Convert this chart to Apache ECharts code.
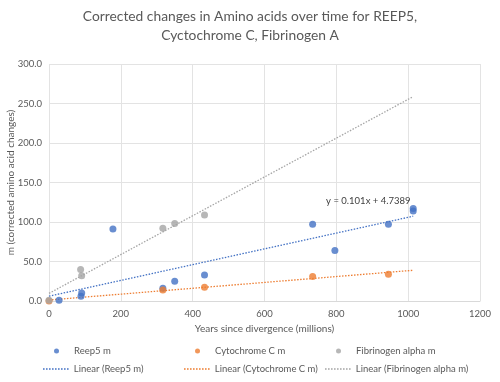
<!DOCTYPE html>
<html><head><meta charset="utf-8">
<script src="https://cdn.jsdelivr.net/npm/echarts@6/dist/echarts.min.js"></script>
<style>html,body{margin:0;padding:0;background:#fff}#c{width:500px;height:382px}</style>
</head><body><div id="c"></div>
<script>
const titleText = 'Corrected changes in Amino acids over time for REEP5,\nCyctochrome C, Fibrinogen A';
const xTicks = [0, 200, 400, 600, 800, 1000, 1200];
const yTicks = [0, 50, 100, 150, 200, 250, 300];
const seriesNames = ['Reep5 m', 'Cytochrome C m', 'Fibrinogen alpha m'];
const reep5X = [28, 89, 91, 178, 317, 350, 433, 734, 796, 945, 1014, 1014];
const reep5Y = [1, 6, 10, 91, 16, 25, 33, 97, 64, 97, 117, 114];
const cytoX = [0, 317, 433, 734, 945];
const cytoY = [0, 14, 17.4, 31, 34];
const fibX = [0, 88, 91, 317, 350, 433];
const fibY = [1, 40, 32, 92, 98, 109];
const reep5Equation = 'y = 0.101x + 4.7389';

const colors = ['#4472C4', '#ED7D31', '#A5A5A5'];
const txt = '#595959';
const font = 'Lato';

function pairs(xs, ys) { return xs.map((x, i) => [x, ys[i]]); }
function fit(xs, ys) {
  const n = xs.length;
  const mx = xs.reduce((a, b) => a + b, 0) / n;
  const my = ys.reduce((a, b) => a + b, 0) / n;
  let sxy = 0, sxx = 0;
  for (let i = 0; i < n; i++) { sxy += (xs[i] - mx) * (ys[i] - my); sxx += (xs[i] - mx) ** 2; }
  const m = sxy / sxx;
  return { m, b: my - m * mx };
}
const allX = reep5X.concat(cytoX, fibX);
const tx0 = Math.min(...allX), tx1 = Math.max(...allX);
function trend(xs, ys) {
  const f = fit(xs, ys);
  return [[tx0, f.b + f.m * tx0], [tx1, f.b + f.m * tx1]];
}
const sets = [[reep5X, reep5Y], [cytoX, cytoY], [fibX, fibY]];
const series = [];
sets.forEach((s, i) => {
  series.push({
    name: seriesNames[i], type: 'scatter', data: pairs(s[0], s[1]),
    symbolSize: 7, itemStyle: { color: colors[i] }, z: 3
  });
});
sets.forEach((s, i) => {
  const ser = {
    name: 'Linear (' + seriesNames[i] + ')', type: 'line', data: trend(s[0], s[1]),
    symbol: 'none', showSymbol: false, silent: true,
    lineStyle: { color: colors[i], width: 1.3, type: [1.5, 1.5] },
    itemStyle: { color: colors[i] }, z: 2
  };
  if (i === 0) {
    ser.markPoint = {
      symbol: 'circle', symbolSize: 0,
      data: [{ coord: [889, 126.5], value: 0 }],
      label: { show: true, formatter: reep5Equation, color: '#404040', fontSize: 9.5, fontFamily: font, position: 'inside' }
    };
  }
  series.push(ser);
});

let dots = '';
for (let k = 0; k < 26; k += 3) dots += 'M' + k + ',0h1.6v1.3h-1.6z';
const dottedIcon = 'path://' + dots;

const colLeft = [43, 184, 325];
const rowTop = [346, 364];
const legends = [];
for (let r = 0; r < 2; r++) for (let c = 0; c < 3; c++) {
  const isDot = r === 0;
  legends.push({
    data: [{ name: series[r * 3 + c].name, icon: isDot ? 'circle' : dottedIcon }],
    left: colLeft[c] + (isDot ? 11 : 0), top: rowTop[r], padding: 0,
    itemWidth: isDot ? 5 : 26, itemHeight: isDot ? 5 : 1.3, itemGap: 0, selectedMode: false,
    textStyle: { color: txt, fontSize: 9.5, fontFamily: font, padding: [0, 0, 0, isDot ? 10 : 0] }
  });
}

const chart = echarts.init(document.getElementById('c'), null, { renderer: 'canvas' });
chart.setOption({
  animation: false,
  title: {
    text: titleText, left: 'center', top: 2,
    textStyle: { color: txt, fontSize: 13.8, fontWeight: 'normal', fontFamily: font, lineHeight: 19 }
  },
  legend: legends,
  grid: { left: 49, right: 20, top: 64, bottom: 81, containLabel: false, outerBoundsMode: 'none' },
  xAxis: {
    type: 'value', min: xTicks[0], max: xTicks[xTicks.length - 1], interval: xTicks[1] - xTicks[0],
    name: 'Years since divergence (millions)', nameLocation: 'middle', nameGap: 23, nameMoveOverlap: false,
    nameTextStyle: { color: txt, fontSize: 10, fontFamily: font },
    axisLine: { show: true, lineStyle: { color: '#d9d9d9' } },
    axisTick: { show: false },
    axisLabel: { color: txt, fontSize: 9.5, fontFamily: font, margin: 8, formatter: v => String(v) },
    splitLine: { show: true, lineStyle: { color: '#e3e3e3' } }
  },
  yAxis: {
    type: 'value', min: yTicks[0], max: yTicks[yTicks.length - 1], interval: yTicks[1] - yTicks[0],
    name: 'm (corrected amino acid changes)', nameLocation: 'middle', nameGap: 33, nameMoveOverlap: false,
    nameTextStyle: { color: txt, fontSize: 10, fontFamily: font },
    axisLine: { show: false }, axisTick: { show: false },
    axisLabel: { color: txt, fontSize: 9.5, fontFamily: font, margin: 7, formatter: v => v.toFixed(1) },
    splitLine: { show: true, lineStyle: { color: '#e3e3e3' } }
  },
  series: series
});
</script></body></html>
